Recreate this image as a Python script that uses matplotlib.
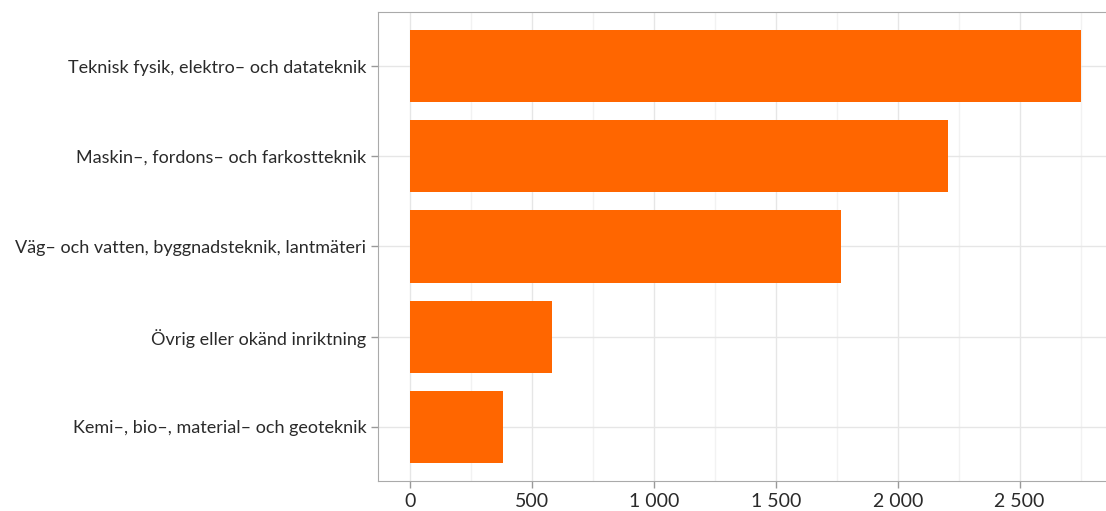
import numpy as np
import matplotlib.pyplot as plt
from matplotlib.ticker import FuncFormatter, MultipleLocator

# categories, bottom to top
categories = [
    "Kemi–, bio–, material– och geoteknik",
    "Övrig eller okänd inriktning",
    "Väg– och vatten, byggnadsteknik, lantmäteri",
    "Maskin–, fordons– och farkostteknik",
    "Teknisk fysik, elektro– och datateknik",
]
values = [381, 582, 1767, 2206, 2751]

plt.rcParams['font.family'] = ['Lato', 'DejaVu Sans']

fig = plt.figure(figsize=(11.06, 5.11), dpi=100)
ax = fig.add_axes([378 / 1106, 30 / 511, 1 - 378 / 1106, 469 / 511])

y = np.arange(len(categories))
ax.barh(y, values, height=0.8, color='#ff6600', zorder=3)

ax.set_xlim(-131, 2854)
ax.set_ylim(-0.6, 4.6)
ax.set_yticks(y)
ax.set_yticklabels(categories, fontsize=13, color='#2a2a2a')

ax.xaxis.set_major_locator(MultipleLocator(500))
ax.xaxis.set_minor_locator(MultipleLocator(250))
ax.xaxis.set_major_formatter(FuncFormatter(lambda v, p: f"{int(v):,}".replace(",", " ")))
ax.tick_params(axis='x', labelsize=14, colors='#2a2a2a', length=5, width=1, color='#999999')
ax.tick_params(axis='y', length=5, width=1, color='#999999')
ax.tick_params(axis='x', which='minor', length=0)

ax.grid(which='major', color='#e6e6e6', linewidth=1, zorder=0)
ax.grid(which='minor', axis='x', color='#f2f2f2', linewidth=1, zorder=0)

for s in ['left', 'bottom', 'top']:
    ax.spines[s].set_color('#aaaaaa')
ax.spines['right'].set_visible(False)

fig.savefig('out.png', dpi=100)
